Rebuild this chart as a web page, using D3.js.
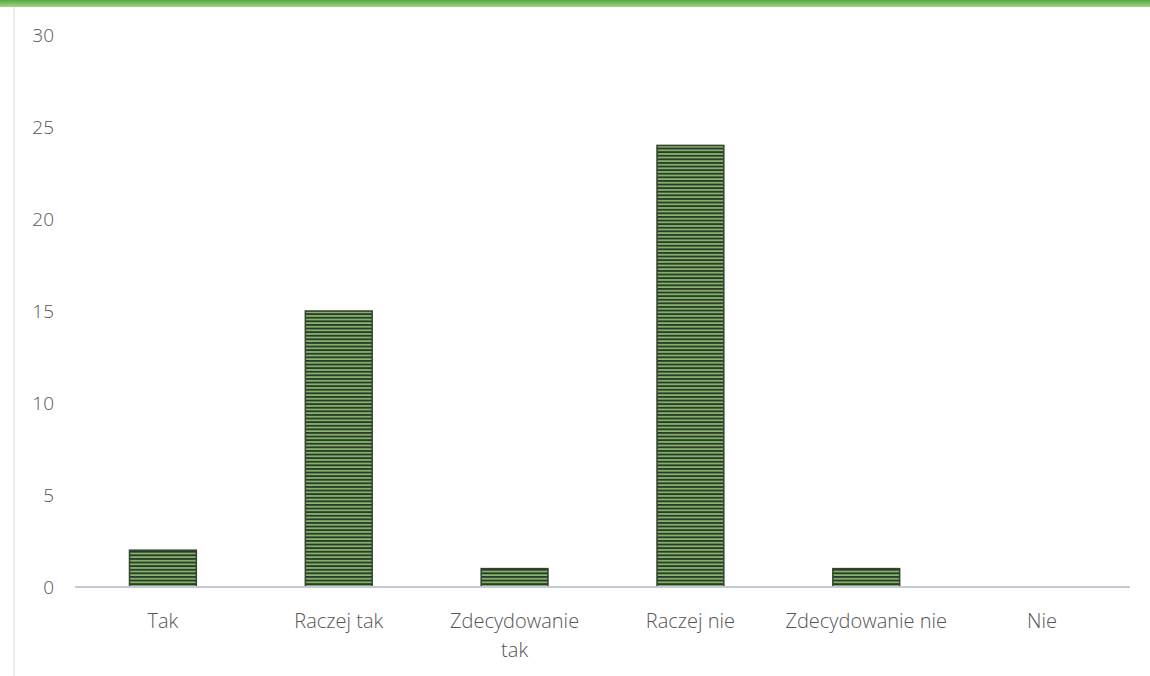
<!DOCTYPE html>
<html><head><meta charset="utf-8">
<script src="https://cdn.jsdelivr.net/npm/d3@7"></script>
<style>body{margin:0;background:#fff;}svg{display:block;}</style>
</head><body>
<svg id="c" width="1150" height="676"></svg>
<script>
const categories = ["Tak","Raczej tak","Zdecydowanie tak","Raczej nie","Zdecydowanie nie","Nie"];
const values = [2,15,1,24,1,0];
const yTicks = [0,5,10,15,20,25,30];

const svg = d3.select("#c");
const W = 1150, H = 676;
const m = {left:75, right:20, top:35, bottom:89};

const defs = svg.append("defs");
const g1 = defs.append("linearGradient").attr("id","strip").attr("x1",0).attr("x2",0).attr("y1",0).attr("y2",1);
g1.append("stop").attr("offset","0%").attr("stop-color","#58a83f");
g1.append("stop").attr("offset","100%").attr("stop-color","#a3d48a");
svg.append("rect").attr("x",0).attr("y",0).attr("width",W).attr("height",7).attr("fill","url(#strip)");
svg.append("line").attr("x1",14).attr("x2",14).attr("y1",7).attr("y2",H).attr("stroke","#e4e8ee").attr("stroke-width",1.5);

const pat = defs.append("pattern").attr("id","stripes").attr("patternUnits","userSpaceOnUse")
  .attr("width",8).attr("height",3.6);
pat.append("rect").attr("width",8).attr("height",3.6).attr("fill","#86b96a");
pat.append("rect").attr("y",0).attr("width",8).attr("height",1.9).attr("fill","#2c3a2b");

const x = d3.scaleBand().domain(categories).range([m.left, W - m.right]).paddingInner(0.62).paddingOuter(0.31);
const y = d3.scaleLinear().domain([0,30]).range([H - m.bottom, m.top]);

const font = "'Open Sans', sans-serif";

svg.append("g").selectAll("text").data(yTicks).join("text")
  .attr("x",54).attr("y",d=>y(d)).attr("dy","0.36em").attr("text-anchor","end")
  .attr("font-family",font).attr("font-size",19).attr("font-weight",300).attr("fill","#555")
  .text(d=>d);

svg.append("g").selectAll("rect").data(values).join("rect")
  .attr("x",(d,i)=>x(categories[i])).attr("width",x.bandwidth())
  .attr("y",d=>y(d)).attr("height",d=>y(0)-y(d))
  .attr("fill","url(#stripes)").attr("stroke","#34422f").attr("stroke-width",1.5);

svg.append("line").attr("x1",m.left).attr("x2",W - m.right).attr("y1",y(0)).attr("y2",y(0))
  .attr("stroke","#c3cad6").attr("stroke-width",2);

const xl = svg.append("g").selectAll("text").data(categories).join("text")
  .attr("x",d=>x(d)+x.bandwidth()/2).attr("y",y(0)+41).attr("text-anchor","middle")
  .attr("font-family",font).attr("font-size",20).attr("font-weight",300).attr("fill","#555");
xl.each(function(d){
  const t = d3.select(this);
  const lines = d === "Zdecydowanie tak" ? ["Zdecydowanie","tak"] : [d];
  lines.forEach((l,i)=>t.append("tspan").attr("x",x(d)+x.bandwidth()/2).attr("dy",i?"1.45em":0).text(l));
});
</script>
</body></html>
